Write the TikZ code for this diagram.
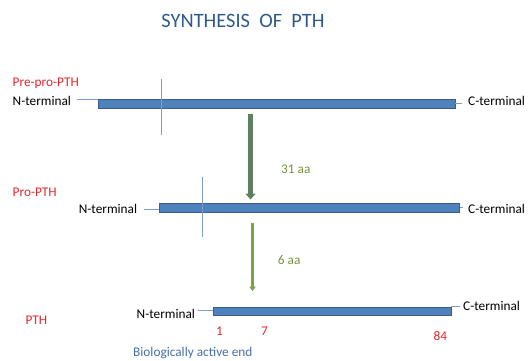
\documentclass[tikz,border=0pt]{standalone}
\usepackage{fontspec}
\setmainfont{Carlito}
\usetikzlibrary{arrows.meta}
\definecolor{titleblue}{HTML}{2E5A8C}
\definecolor{actblue}{HTML}{4470A6}
\definecolor{redtxt}{HTML}{E5262B}
\definecolor{olivetxt}{HTML}{76923C}
\definecolor{barfill}{HTML}{4F81BD}
\definecolor{barborder}{HTML}{385D8A}
\definecolor{thinline}{HTML}{7F9CC8}
\definecolor{arrowA}{HTML}{5E7F60}
\definecolor{arrowB}{HTML}{79A347}
\begin{document}
\begin{tikzpicture}[x=1pt,y=-1pt,
  bar/.style={draw=barborder, fill=barfill, line width=0.8pt, inner sep=0pt, anchor=north west},
  lbl/.style={anchor=base west, inner sep=0pt, font=\fontsize{13.3}{15}\selectfont},
  redlbl/.style={lbl, text=redtxt},
  conn/.style={draw=thinline, line width=0.6pt},
  arrA/.style={draw=arrowA, line width=4.5pt, -{Triangle[width=10pt,length=6pt]}},
  arrB/.style={draw=arrowB, line width=3pt, -{Triangle[width=6.5pt,length=4.5pt]}}
]
\useasboundingbox (0,0) rectangle (531,360);

% title
\node[anchor=base, inner sep=0pt, text=titleblue, font=\fontsize{20.4}{24}\selectfont] (title) at (243,27) {SYNTHESIS\ \ OF\ \ PTH};

% row 1: Pre-pro-PTH
\node[redlbl] (prepro) at (12.5,86.5) {Pre-pro-PTH};
\node[lbl] (n1) at (12.5,105.5) {N-terminal};
\node[lbl] (c1) at (468,105.5) {C-terminal};
\node[bar, minimum width=357pt, minimum height=9.5pt] (bar1) at (97.5,98.5) {};
\coordinate (n1e) at (77,98.8);
\draw[conn] (n1e) -- (n1e -| bar1.west);
\coordinate (c1e) at (462,103);
\draw[conn] (c1e -| bar1.east) -- (c1e);
\coordinate (v1t) at (161,78.6);
\coordinate (v1b) at (161,135);
\draw[conn] (v1t) -- (v1b);

% arrow 1
\coordinate (a1s) at (250.5,114);
\coordinate (a1e) at (250.5,199.5);
\draw[arrA] (a1s) -- (a1e);
\node[lbl, text=olivetxt] (aa31) at (281,173) {31 aa};

% row 2: Pro-PTH
\node[redlbl] (pro) at (12.5,196) {Pro-PTH};
\node[lbl] (n2) at (78.6,213) {N-terminal};
\node[lbl] (c2) at (468,213) {C-terminal};
\node[bar, minimum width=300pt, minimum height=9.2pt] (bar2) at (159,202.8) {};
\coordinate (n2e) at (144,209.6);
\draw[conn] (n2e) -- (n2e -| bar2.west);
\coordinate (c2e) at (463,207.5);
\draw[conn] (c2e -| bar2.east) -- (c2e);
\coordinate (v2t) at (202,177.4);
\coordinate (v2b) at (202,236.7);
\draw[conn] (v2t) -- (v2b);

% arrow 2
\coordinate (a2s) at (252.5,223);
\coordinate (a2e) at (252.5,291);
\draw[arrB] (a2s) -- (a2e);
\node[lbl, text=olivetxt] (aa6) at (277.7,264.5) {6 aa};

% row 3: PTH
\node[redlbl] (pth) at (25.4,324) {PTH};
\node[lbl] (n3) at (136.5,318.5) {N-terminal};
\node[lbl] (c3) at (463,310) {C-terminal};
\node[bar, minimum width=237.5pt, minimum height=8.3pt] (bar3) at (213,306.7) {};
\coordinate (n3e) at (197.5,310.2);
\draw[conn] (n3e) -- (n3e -| bar3.west);
\coordinate (c3e) at (459.5,306.5);
\draw[conn] (c3e -| bar3.east) -- (c3e);

\node[redlbl] (p1) at (216,335.8) {1};
\node[redlbl] (p7) at (261,335.8) {7};
\node[redlbl] (p84) at (433.5,340.5) {84};
\node[lbl, text=actblue] (active) at (133,356.8) {Biologically active end};
\end{tikzpicture}
\end{document}
